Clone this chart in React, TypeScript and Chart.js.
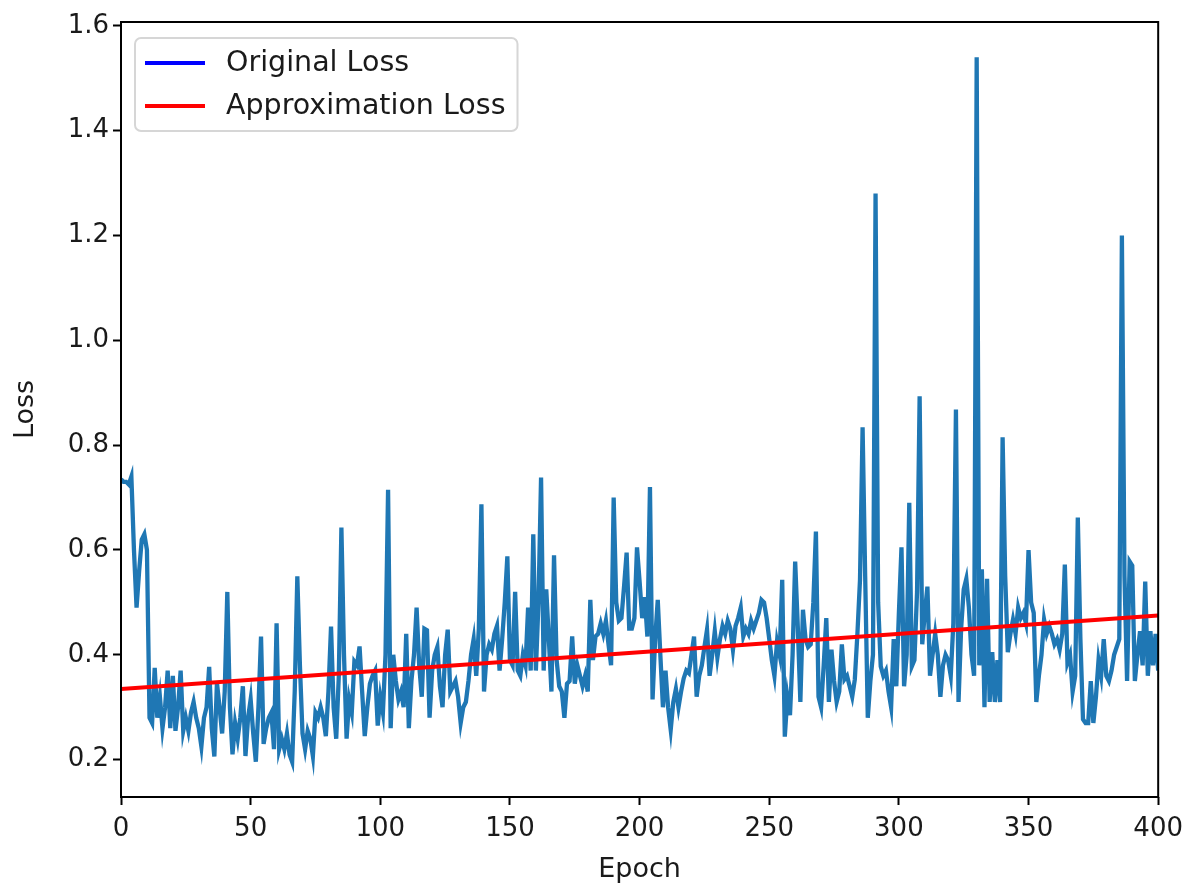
import { useEffect, useRef } from "react";
import { Chart, registerables } from "chart.js";

Chart.register(...registerables);

// Per-epoch training loss (epochs 0..400)
const originalLoss: number[] = [
  0.735, 0.73, 0.73, 0.725, 0.74, 0.6, 0.49, 0.56, 0.62, 0.63,
  0.6, 0.28, 0.27, 0.375, 0.28, 0.32, 0.26, 0.3, 0.37, 0.26,
  0.36, 0.255, 0.3, 0.37, 0.255, 0.28, 0.255, 0.29, 0.31, 0.28,
  0.26, 0.225, 0.28, 0.3, 0.377, 0.26, 0.206, 0.347, 0.3, 0.25,
  0.33, 0.52, 0.3, 0.21, 0.27, 0.24, 0.28, 0.34, 0.207, 0.28,
  0.315, 0.25, 0.196, 0.3, 0.435, 0.23, 0.26, 0.28, 0.29, 0.22,
  0.46, 0.22, 0.24, 0.22, 0.25, 0.21, 0.196, 0.33, 0.55, 0.38,
  0.25, 0.22, 0.255, 0.24, 0.207, 0.29, 0.28, 0.3, 0.28, 0.245,
  0.33, 0.454, 0.3, 0.24, 0.36, 0.643, 0.4, 0.24, 0.315, 0.29,
  0.387, 0.38, 0.416, 0.33, 0.245, 0.3, 0.345, 0.36, 0.37, 0.265,
  0.32, 0.29, 0.4, 0.715, 0.26, 0.4, 0.35, 0.315, 0.33, 0.3,
  0.44, 0.26, 0.35, 0.4, 0.49, 0.38, 0.32, 0.45, 0.447, 0.28,
  0.37, 0.4, 0.415, 0.34, 0.3, 0.4, 0.448, 0.33, 0.34, 0.35,
  0.32, 0.27, 0.3, 0.31, 0.35, 0.4, 0.43, 0.36, 0.45, 0.687,
  0.33, 0.4, 0.42, 0.41, 0.44, 0.455, 0.37, 0.43, 0.5, 0.588,
  0.39, 0.38, 0.52, 0.37, 0.36, 0.4, 0.38, 0.49, 0.37, 0.63,
  0.37, 0.5, 0.738, 0.37, 0.525, 0.43, 0.33, 0.59, 0.39, 0.34,
  0.33, 0.28, 0.345, 0.35, 0.435, 0.345, 0.38, 0.36, 0.34, 0.36,
  0.33, 0.505, 0.39, 0.435, 0.44, 0.46, 0.44, 0.465, 0.42, 0.38,
  0.7, 0.5, 0.465, 0.47, 0.53, 0.595, 0.45, 0.45, 0.47, 0.605,
  0.54, 0.47, 0.51, 0.435, 0.72, 0.315, 0.43, 0.505, 0.4, 0.3,
  0.37, 0.3, 0.257, 0.31, 0.335, 0.3, 0.33, 0.355, 0.37, 0.365,
  0.4, 0.435, 0.32, 0.36, 0.38, 0.415, 0.448, 0.36, 0.4, 0.445,
  0.395, 0.43, 0.455, 0.44, 0.465, 0.45, 0.41, 0.455, 0.47, 0.49,
  0.435, 0.45, 0.44, 0.465, 0.45, 0.465, 0.48, 0.505, 0.5, 0.47,
  0.43, 0.39, 0.36, 0.425, 0.4, 0.543, 0.244, 0.32, 0.285, 0.4,
  0.578, 0.455, 0.31, 0.486, 0.43, 0.415, 0.42, 0.5, 0.635, 0.32,
  0.3, 0.38, 0.47, 0.31, 0.41, 0.35, 0.31, 0.33, 0.42, 0.353,
  0.36, 0.34, 0.32, 0.353, 0.44, 0.543, 0.834, 0.55, 0.28, 0.35,
  0.4, 1.28, 0.5, 0.378, 0.36, 0.37, 0.33, 0.3, 0.43, 0.34,
  0.48, 0.605, 0.34, 0.4, 0.69, 0.378, 0.39, 0.52, 0.893, 0.42,
  0.48, 0.53, 0.36, 0.4, 0.44, 0.4, 0.32, 0.38, 0.4, 0.39,
  0.36, 0.46, 0.868, 0.31, 0.45, 0.525, 0.545, 0.49, 0.4, 0.36,
  1.54, 0.38, 0.563, 0.3, 0.545, 0.31, 0.405, 0.31, 0.39, 0.31,
  0.815, 0.55, 0.405, 0.44, 0.467, 0.44, 0.49, 0.47, 0.48, 0.46,
  0.6, 0.5, 0.48, 0.31, 0.36, 0.4, 0.467, 0.44, 0.455, 0.44,
  0.42, 0.43, 0.41, 0.44, 0.572, 0.385, 0.4, 0.33, 0.36, 0.662,
  0.43, 0.277, 0.27, 0.27, 0.35, 0.27, 0.32, 0.39, 0.36, 0.43,
  0.36, 0.35, 0.37, 0.4, 0.415, 0.43, 1.2, 0.55, 0.35, 0.578,
  0.57, 0.35, 0.4, 0.445, 0.38, 0.54, 0.36, 0.445, 0.38, 0.44,
  0.37,
];
const epochs: number[] = originalLoss.map((_, i) => i);

// Linear approximation of the loss: end points
const approxEpochs: number[] = [0, 400];
const approxLoss: number[] = [0.335, 0.475];

const xTicks: number[] = [0, 50, 100, 150, 200, 250, 300, 350, 400];
const yTicks: number[] = [0.2, 0.4, 0.6, 0.8, 1.0, 1.2, 1.4, 1.6];

const legendLabels: string[] = ["Original Loss", "Approximation Loss"];
const legendColors: string[] = ["#0000ff", "#ff0000"];

const FONT = "'DejaVu Sans', sans-serif";
const TICK_FS = 26;
const TITLE_FS = 27;
const LEGEND_FS = 28.5;

const framePlugin = {
  id: "frame",
  afterDatasetsDraw(chart: any) {
    const { ctx, chartArea: a } = chart;
    ctx.save();
    ctx.strokeStyle = "#000";
    ctx.lineWidth = 2;
    ctx.strokeRect(a.left, a.top, a.right - a.left, a.bottom - a.top);
    ctx.restore();
  },
};

const boxLegendPlugin = {
  id: "boxLegend",
  afterDraw(chart: any) {
    const { ctx, chartArea: a } = chart;
    ctx.save();
    ctx.font = `${LEGEND_FS}px ${FONT}`;
    const pad = 10;
    const handle = 60;
    const gap = 21;
    const rowH = 30;
    const spacing = 13;
    const textW = Math.max(...legendLabels.map((t) => ctx.measureText(t).width));
    const x0 = a.left + 14;
    const y0 = a.top + 16;
    const w = pad + handle + gap + textW + 12;
    const h = pad * 2 + rowH * legendLabels.length + spacing * (legendLabels.length - 1);
    const r = 6;
    ctx.beginPath();
    ctx.moveTo(x0 + r, y0);
    ctx.arcTo(x0 + w, y0, x0 + w, y0 + h, r);
    ctx.arcTo(x0 + w, y0 + h, x0, y0 + h, r);
    ctx.arcTo(x0, y0 + h, x0, y0, r);
    ctx.arcTo(x0, y0, x0 + w, y0, r);
    ctx.closePath();
    ctx.fillStyle = "rgba(255,255,255,0.8)";
    ctx.fill();
    ctx.strokeStyle = "#d6d6d6";
    ctx.lineWidth = 2;
    ctx.stroke();
    legendLabels.forEach((label, i) => {
      const cy = y0 + pad + rowH / 2 + i * (rowH + spacing);
      ctx.beginPath();
      ctx.moveTo(x0 + pad, cy);
      ctx.lineTo(x0 + pad + handle, cy);
      ctx.strokeStyle = legendColors[i];
      ctx.lineWidth = 3.9;
      ctx.stroke();
      ctx.fillStyle = "#1a1a1a";
      ctx.textBaseline = "middle";
      ctx.textAlign = "left";
      ctx.fillText(label, x0 + pad + handle + gap, cy + 1);
    });
    ctx.restore();
  },
};

export default function App() {
  const ref = useRef<HTMLCanvasElement>(null);

  useEffect(() => {
    if (!ref.current) return;
    const lo = Math.min(...originalLoss);
    const hi = Math.max(...originalLoss);
    const margin = (hi - lo) * 0.05;

    const chart = new Chart(ref.current, {
      type: "line",
      data: {
        datasets: [
          {
            label: legendLabels[0],
            data: epochs.map((e, i) => ({ x: e, y: originalLoss[i] })),
            borderColor: "#1f77b4",
            borderWidth: 4.3,
            pointRadius: 0,
            tension: 0,
            fill: false,
            order: 2,
          },
          {
            label: legendLabels[1],
            data: approxEpochs.map((e, i) => ({ x: e, y: approxLoss[i] })),
            borderColor: "#ff0000",
            borderWidth: 4,
            pointRadius: 0,
            tension: 0,
            fill: false,
            order: 1,
          },
        ],
      },
      options: {
        animation: false,
        responsive: false,
        devicePixelRatio: 1,
        layout: { padding: { left: 0, top: 22, right: 30, bottom: 0 } },
        font: { family: FONT, size: TICK_FS },
        plugins: {
          legend: { display: false },
          tooltip: { enabled: false },
        },
        scales: {
          x: {
            type: "linear",
            min: 0,
            max: 400,
            afterBuildTicks: (s: any) => {
              s.ticks = xTicks.map((v) => ({ value: v }));
            },
            afterFit: (s: any) => {
              s.height = 91;
            },
            grid: {
              display: true,
              drawOnChartArea: false,
              drawTicks: true,
              tickLength: 8,
              tickWidth: 2,
              tickColor: "#000",
            },
            border: { display: false },
            ticks: {
              color: "#1a1a1a",
              padding: 9,
              maxRotation: 0,
              autoSkip: false,
              font: { family: FONT, size: TICK_FS },
              callback: (v: any) => String(v),
            },
            title: {
              display: true,
              text: "Epoch",
              color: "#1a1a1a",
              font: { family: FONT, size: TITLE_FS },
              padding: { top: 0, bottom: 2 },
            },
          },
          y: {
            type: "linear",
            min: lo - margin,
            max: hi + margin,
            afterBuildTicks: (s: any) => {
              s.ticks = yTicks.map((v) => ({ value: v }));
            },
            afterFit: (s: any) => {
              s.width = 121;
            },
            grid: {
              display: true,
              drawOnChartArea: false,
              drawTicks: true,
              tickLength: 8,
              tickWidth: 2,
              tickColor: "#000",
            },
            border: { display: false },
            ticks: {
              color: "#1a1a1a",
              padding: 4,
              autoSkip: false,
              font: { family: FONT, size: TICK_FS },
              callback: (v: any) => Number(v).toFixed(1),
            },
            title: {
              display: true,
              text: "Loss",
              color: "#1a1a1a",
              font: { family: FONT, size: TITLE_FS },
              padding: { top: 10, bottom: 0 },
            },
          },
        },
      },
      plugins: [framePlugin, boxLegendPlugin],
    });
    return () => chart.destroy();
  }, []);

  return (
    <div style={{ position: "fixed", left: 0, top: 0, width: 1192, height: 888, background: "#fff" }}>
      <canvas ref={ref} width={1192} height={888} style={{ display: "block" }} />
    </div>
  );
}
